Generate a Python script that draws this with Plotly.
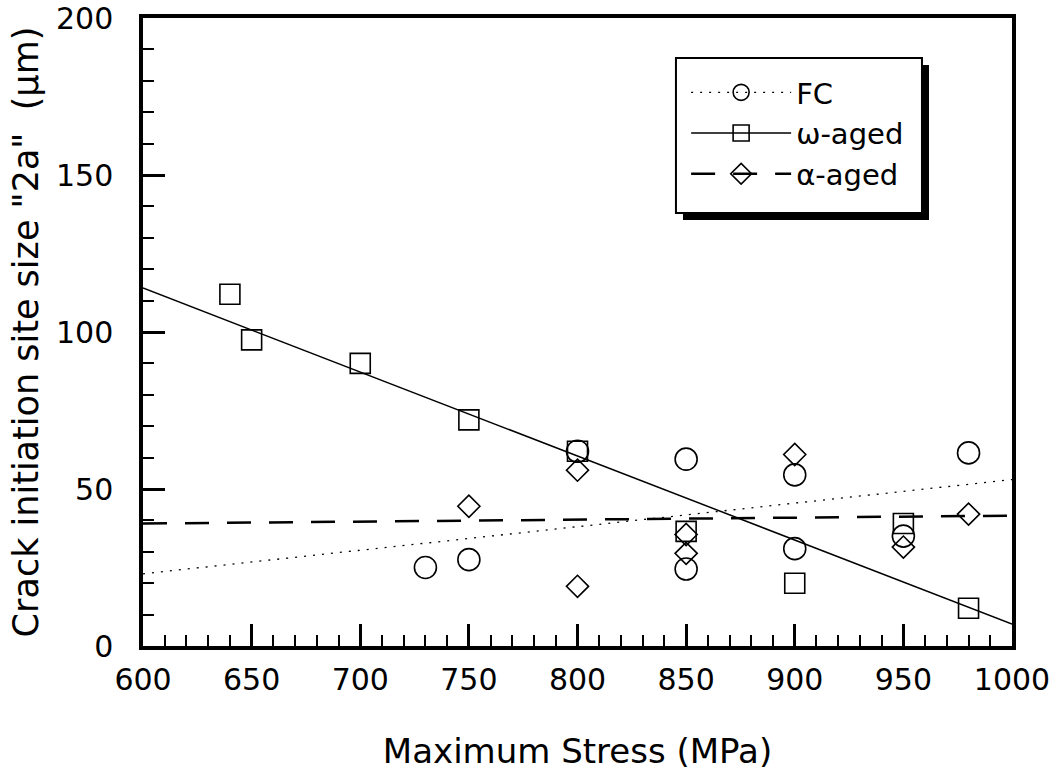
import plotly.graph_objects as go

# Measured crack initiation site sizes (µm) against maximum stress (MPa)
fc_stress = [730, 750, 800, 850, 850, 900, 900, 950, 980]
fc_size = [25, 27.5, 62, 59.5, 24.5, 54.5, 31, 35, 61.5]

omega_stress = [640, 650, 700, 750, 800, 850, 900, 950, 980]
omega_size = [112, 97.5, 90, 72, 62, 36.5, 20, 39, 12]

alpha_stress = [750, 800, 800, 850, 850, 900, 950, 980]
alpha_size = [44.5, 56, 19, 35.5, 29.5, 61, 31.5, 42]

# Least-squares trend lines, evaluated at the ends of the stress axis
fit_stress = [600, 1000]
fc_fit = [23, 53]
omega_fit = [114, 7]
alpha_fit = [39, 41.5]

x_ticks = [600, 650, 700, 750, 800, 850, 900, 950, 1000]
y_ticks = [0, 50, 100, 150, 200]

FONT = "DejaVu Sans, Verdana, sans-serif"
INK = "black"

series = [
    ("FC", fc_stress, fc_size, fc_fit, "circle-open", 22, "2px,7px", 1.3),
    ("ω-aged", omega_stress, omega_size, omega_fit, "square-open", 20, "solid", 1.5),
    ("α-aged", alpha_stress, alpha_size, alpha_fit, "diamond-open", 17, "24px,18px", 2.5),
]

fig = go.Figure()

for name, xs, ys, fit, symbol, size, dash, lw in series:
    # trend line
    fig.add_trace(go.Scatter(
        x=fit_stress, y=fit, mode="lines", showlegend=False,
        line=dict(color=INK, width=lw, dash=dash), hoverinfo="skip",
    ))
    # measured points
    fig.add_trace(go.Scatter(
        x=xs, y=ys, mode="markers", showlegend=False, name=name,
        marker=dict(symbol=symbol, size=size, color=INK, line=dict(width=1.6, color=INK)),
    ))
    # legend entry showing line + marker together
    fig.add_trace(go.Scatter(
        x=[None], y=[None], mode="lines+markers", name=name,
        line=dict(color=INK, width=lw, dash=dash),
        marker=dict(symbol=symbol, size=size, color=INK, line=dict(width=1.6, color=INK)),
    ))

# legend frame: black drop shadow, then the white box on top of it
fig.add_shape(
    type="rect", xref="paper", yref="paper",
    x0=0.6214, x1=0.9045, y0=0.6783, y1=0.9252,
    fillcolor=INK, line=dict(width=0), layer="above",
)
fig.add_shape(
    type="rect", xref="paper", yref="paper",
    x0=0.6133, x1=0.8964, y0=0.6895, y1=0.9363,
    fillcolor="white", line=dict(width=2, color=INK), layer="above",
)

axis_common = dict(
    showgrid=False, zeroline=False, automargin=False,
    showline=True, linecolor=INK, linewidth=3.5, mirror=True,
    ticks="inside", ticklen=22, tickwidth=2.5, tickcolor=INK,
    tickfont=dict(family=FONT, size=30, color=INK),
    minor=dict(ticks="inside", ticklen=11, tickwidth=2.2, tickcolor=INK, dtick=10, showgrid=False),
)

fig.update_xaxes(
    range=[600, 1000], tickmode="array", tickvals=x_ticks,
    ticktext=[str(v) for v in x_ticks], ticklabelstandoff=4,
    title=dict(text="Maximum Stress (MPa)", font=dict(family=FONT, size=34, color=INK), standoff=44),
    **axis_common,
)
fig.update_yaxes(
    range=[0, 200], tickmode="array", tickvals=y_ticks,
    ticktext=[str(v) for v in y_ticks], ticklabelstandoff=20,
    title=dict(text='Crack initiation site size "2a"  (µm)',
               font=dict(family=FONT, size=35, color=INK), standoff=8),
    **axis_common,
)

fig.update_layout(
    width=1062, height=774,
    margin=dict(l=143, r=50, t=18, b=128, autoexpand=False),
    paper_bgcolor="white", plot_bgcolor="white",
    showlegend=True,
    legend=dict(
        x=0.625, y=0.922, xanchor="left", yanchor="top",
        bgcolor="rgba(0,0,0,0)", borderwidth=0,
        font=dict(family=FONT, size=29, color=INK),
        itemwidth=100, tracegroupgap=0,
    ),
)

fig.write_html("out.html")
